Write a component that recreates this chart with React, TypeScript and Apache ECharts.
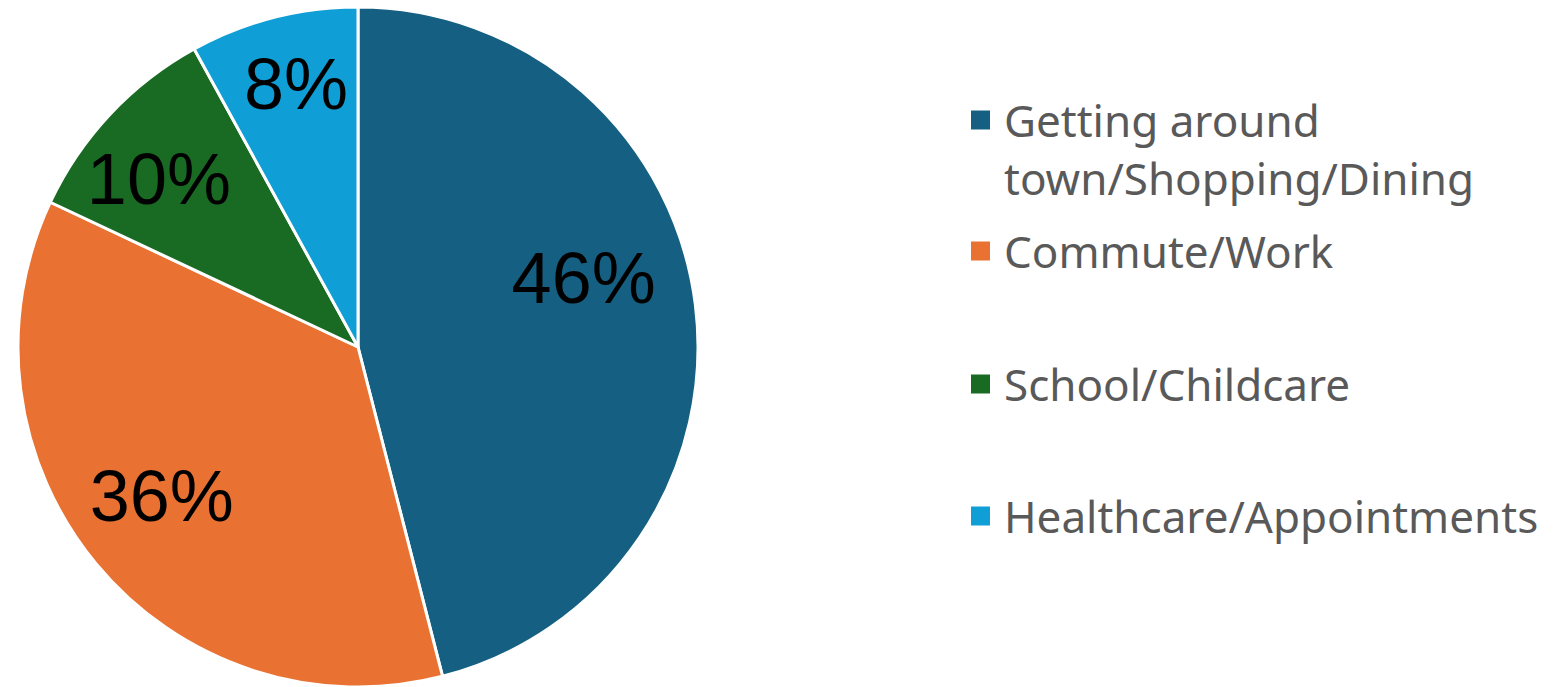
import React, { useEffect, useRef } from "react";
import * as echarts from "echarts";

const categories = [
  "Getting around town/Shopping/Dining",
  "Commute/Work",
  "School/Childcare",
  "Healthcare/Appointments",
];
const shares = [46, 36, 10, 8];
const sliceColors = ["#156082", "#E97132", "#196B24", "#0F9ED5"];
const legendLabels = [
  "\nGetting around\ntown/Shopping/Dining",
  "Commute/Work",
  "School/Childcare",
  "Healthcare/Appointments",
];

// label nudges (px) from the default inside position
const labelNudges: [number, number][] = [
  [54, -47],
  [-63, 39],
  [-73, -50],
  [-19, -95],
];
const legendTops = [33, 222, 355, 487];

export default function App() {
  const ref = useRef<HTMLDivElement>(null);
  useEffect(() => {
    if (!ref.current) return;
    const chart = echarts.init(ref.current, null, { renderer: "svg" });
    const legends = categories.map((name, i) => ({
      show: true,
      data: [name],
      left: 969,
      top: legendTops[i],
      orient: "vertical",
      padding: 0,
      icon: "rect",
      itemWidth: 21,
      itemHeight: 21,
      selectedMode: false,
      formatter: () => legendLabels[i],
      textStyle: {
        fontFamily: "Noto Sans",
        fontSize: 44,
        color: "#595959",
        lineHeight: 58,
        padding: [0, 0, 0, 8],
      },
    }));
    chart.setOption({
      animation: false,
      backgroundColor: "#ffffff",
      color: sliceColors,
      legend: legends,
      series: [
        {
          type: "pie",
          center: [358, 347],
          radius: [0, 340],
          startAngle: 90,
          clockwise: true,
          avoidLabelOverlap: false,
          itemStyle: { borderColor: "#ffffff", borderWidth: 3 },
          label: {
            show: true,
            position: "inside",
            formatter: "{c}%",
            fontFamily: "Liberation Sans",
            fontSize: 72,
            color: "#000000",
          },
          labelLine: { show: false },
          labelLayout: (params: any) => {
            const n = labelNudges[params.dataIndex] || [0, 0];
            return { dx: n[0], dy: n[1] };
          },
          emphasis: { disabled: true },
          data: categories.map((name, i) => ({ name, value: shares[i] })),
        },
      ],
    });
    return () => chart.dispose();
  }, []);
  return (
    <div
      ref={ref}
      style={{ position: "fixed", left: 0, top: 0, width: 1565, height: 687 }}
    />
  );
}
